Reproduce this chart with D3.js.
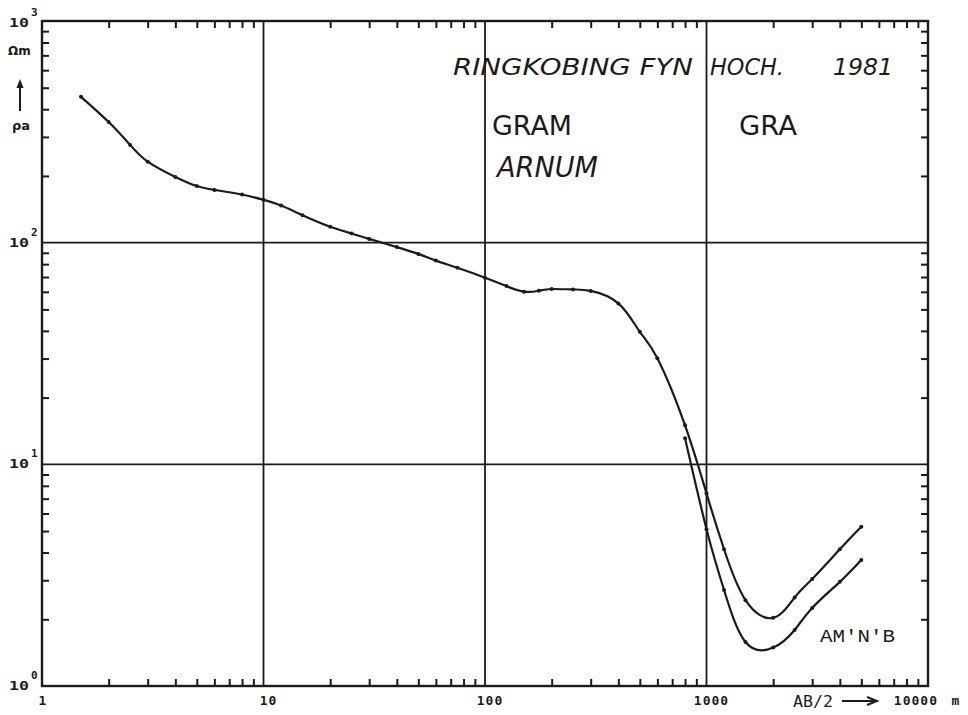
<!DOCTYPE html>
<html>
<head>
<meta charset="utf-8">
<script src="https://cdn.jsdelivr.net/npm/d3@7/dist/d3.min.js"></script>
<style>
  html, body { margin: 0; padding: 0; background: #ffffff; }
  svg { display: block; }
</style>
</head>
<body>
<svg id="chart" width="968" height="715"></svg>
<script>
// ---- data (AB/2 in m, apparent resistivity in Ohm·m) ----
const mainX = [1.5, 2, 2.5, 3, 4, 5, 6, 8, 10, 12, 15, 20, 25, 30, 40, 50, 60, 75, 100, 125, 150, 175, 200, 250, 300, 400, 500, 600, 800, 1000, 1200, 1500, 2000, 2500, 3000, 4000, 5000];
const mainY = [455, 350, 276, 232, 198, 180, 173, 165, 156, 147, 133, 118, 110, 104, 95.5, 89, 83, 77, 69.5, 63.7, 60.1, 60.7, 61.8, 61.5, 60.6, 53.2, 39.6, 30.1, 15.0, 7.4, 4.14, 2.44, 2.03, 2.51, 3.04, 4.14, 5.23];
const amnbX = [800, 1000, 1200, 1500, 2000, 2500, 3000, 4000, 5000];
const amnbY = [13.1, 5.1, 2.71, 1.58, 1.49, 1.79, 2.25, 2.95, 3.7];
const xTickLabels = ["1", "10", "100", "1000", "10000"];
const yTickExps = ["0", "1", "2", "3"];
const titleParts = ["RINGKOBING FYN", "HOCH.", "1981"];
const labelGram = "GRAM";
const labelArnum = "ARNUM";
const labelGra = "GRA";
const labelAmnb = "AM'N'B";

// ---- layout ----
const L = 42, R = 928, T = 21, B = 686;
const ink = "#1b1b1b";
const svg = d3.select("#chart");
const x = d3.scaleLog().domain([1, 10000]).range([L, R]);
const y = d3.scaleLog().domain([1, 1000]).range([B, T]);

const g = svg.append("g");

// minor tick values
const minorX = [], minorY = [];
for (let d = 1; d < 10000; d *= 10) for (let k = 2; k <= 9; k++) minorX.push(d * k);
for (let d = 1; d < 1000; d *= 10) for (let k = 2; k <= 9; k++) minorY.push(d * k);

const tl = 7;
g.append("g").attr("transform", `translate(0,${B})`)
  .call(d3.axisBottom(x).tickValues(minorX).tickSize(-tl).tickFormat(""))
  .call(a => a.select(".domain").remove())
  .call(a => a.selectAll("line").attr("stroke", ink).attr("stroke-width", 2));
g.append("g").attr("transform", `translate(0,${T})`)
  .call(d3.axisTop(x).tickValues(minorX).tickSize(-tl).tickFormat(""))
  .call(a => a.select(".domain").remove())
  .call(a => a.selectAll("line").attr("stroke", ink).attr("stroke-width", 2));
g.append("g").attr("transform", `translate(${L},0)`)
  .call(d3.axisLeft(y).tickValues(minorY).tickSize(-tl).tickFormat(""))
  .call(a => a.select(".domain").remove())
  .call(a => a.selectAll("line").attr("stroke", ink).attr("stroke-width", 2));
g.append("g").attr("transform", `translate(${R},0)`)
  .call(d3.axisRight(y).tickValues(minorY).tickSize(-tl).tickFormat(""))
  .call(a => a.select(".domain").remove())
  .call(a => a.selectAll("line").attr("stroke", ink).attr("stroke-width", 2));

// major grid lines
g.append("g").selectAll("line").data([10, 100, 1000]).join("line")
  .attr("x1", d => x(d)).attr("x2", d => x(d)).attr("y1", T).attr("y2", B)
  .attr("stroke", ink).attr("stroke-width", 1.8);
g.append("g").selectAll("line").data([10, 100]).join("line")
  .attr("y1", d => y(d)).attr("y2", d => y(d)).attr("x1", L).attr("x2", R)
  .attr("stroke", ink).attr("stroke-width", 1.8);

// frame
g.append("rect").attr("x", L).attr("y", T).attr("width", R - L).attr("height", B - T)
  .attr("fill", "none").attr("stroke", ink).attr("stroke-width", 2.4);

// bottom tick labels
const mono = "'DejaVu Sans Mono', monospace";
const xt = g.append("g").attr("font-family", mono).attr("font-weight", "bold")
  .attr("font-size", 13).attr("fill", ink).attr("letter-spacing", 1);
xTickLabels.forEach((t, i) => {
  const v = Math.pow(10, i);
  const last = i === xTickLabels.length - 1;
  xt.append("text")
    .attr("x", last ? x(v) + 10 : x(v) + (i === 0 ? 1 : 5))
    .attr("y", 705)
    .attr("text-anchor", last ? "end" : "middle")
    .text(t);
});
xt.append("text").attr("x", 956).attr("y", 705).attr("text-anchor", "middle").text("m");
xt.append("text").attr("x", 793).attr("y", 707).attr("font-size", 15).attr("font-weight", "normal")
  .attr("letter-spacing", 0).attr("textLength", 40).attr("lengthAdjust", "spacingAndGlyphs").text("AB/2");
g.append("line").attr("x1", 842).attr("x2", 874).attr("y1", 701).attr("y2", 701)
  .attr("stroke", ink).attr("stroke-width", 2);
g.append("path").attr("d", "M867,697 L877,701 L867,705").attr("fill", "none")
  .attr("stroke", ink).attr("stroke-width", 2);

// left tick labels 10^n
const yt = g.append("g").attr("font-family", mono).attr("font-weight", "bold").attr("fill", ink);
yTickExps.forEach((e, i) => {
  const v = Math.pow(10, i);
  const yy = Math.max(y(v), 23);
  yt.append("text").attr("x", 9).attr("y", yy + 4).attr("font-size", 13)
    .attr("textLength", 20).attr("lengthAdjust", "spacingAndGlyphs").text("10");
  yt.append("text").attr("x", 31).attr("y", yy - 7).attr("font-size", 11).text(e);
});
// unit labels
yt.append("text").attr("x", 8).attr("y", 55).attr("font-size", 12).attr("font-family", "'DejaVu Sans', sans-serif").text("Ωm");
g.append("line").attr("x1", 20).attr("x2", 20).attr("y1", 111).attr("y2", 82)
  .attr("stroke", ink).attr("stroke-width", 2);
g.append("path").attr("d", "M16.5,88 L20,79 L23.5,88 Z").attr("fill", ink);
yt.append("text").attr("x", 12).attr("y", 130).attr("font-size", 13).attr("font-family", "'DejaVu Sans', sans-serif").text("ρa");

// title & annotations
const sans = "'DejaVu Sans', sans-serif";
const ann = g.append("g").attr("font-family", sans).attr("fill", ink);
ann.append("text").attr("x", 453).attr("y", 75).attr("font-size", 23).attr("font-style", "italic")
  .attr("textLength", 240).attr("lengthAdjust", "spacingAndGlyphs").text(titleParts[0]);
ann.append("text").attr("x", 710).attr("y", 75).attr("font-size", 23).attr("font-style", "italic")
  .attr("textLength", 74).attr("lengthAdjust", "spacingAndGlyphs").text(titleParts[1]);
ann.append("text").attr("x", 833).attr("y", 75).attr("font-size", 23).attr("font-style", "italic")
  .attr("textLength", 60).attr("lengthAdjust", "spacingAndGlyphs").text(titleParts[2]);
ann.append("text").attr("x", 492).attr("y", 135).attr("font-size", 27)
  .attr("textLength", 80).attr("lengthAdjust", "spacingAndGlyphs").text(labelGram);
ann.append("text").attr("x", 497).attr("y", 177).attr("font-size", 28).attr("font-style", "italic")
  .attr("textLength", 101).attr("lengthAdjust", "spacingAndGlyphs").text(labelArnum);
ann.append("text").attr("x", 739).attr("y", 135).attr("font-size", 27)
  .attr("textLength", 58).attr("lengthAdjust", "spacingAndGlyphs").text(labelGra);
ann.append("text").attr("x", 820).attr("y", 642).attr("font-size", 19)
  .attr("font-family", "'Liberation Mono', 'Courier New', monospace")
  .attr("textLength", 75).attr("lengthAdjust", "spacingAndGlyphs").text(labelAmnb);

// curves
const line = d3.line().x(d => x(d[0])).y(d => y(d[1])).curve(d3.curveNatural);
const mainData = mainX.map((v, i) => [v, mainY[i]]);
const amnbData = amnbX.map((v, i) => [v, amnbY[i]]);
[mainData, amnbData].forEach(data => {
  g.append("path").datum(data).attr("d", line).attr("fill", "none")
    .attr("stroke", ink).attr("stroke-width", 2.2).attr("stroke-linejoin", "round");
  g.append("g").selectAll("circle").data(data).join("circle")
    .attr("cx", d => x(d[0])).attr("cy", d => y(d[1])).attr("r", 2).attr("fill", ink);
});
</script>
</body>
</html>
